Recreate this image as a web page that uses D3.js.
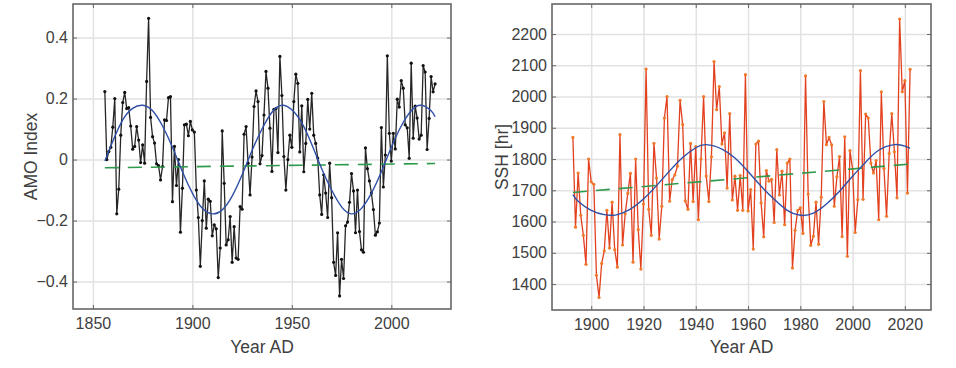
<!DOCTYPE html>
<html>
<head>
<meta charset="utf-8">
<script src="https://cdn.jsdelivr.net/npm/d3@7"></script>
<style>
  body { margin: 0; background: #fff; }
  svg text { font-family: Arial, "Liberation Sans", Helvetica, sans-serif; }
</style>
</head>
<body>
<svg id="chart" width="956" height="368"></svg>
<script>
// ---- left panel: AMO index, annual, 1856-2022
var amoStart = 1856;
var amoValues = [
  0.223, 0.0, 0.026, 0.04,
  0.106, 0.2, -0.178, -0.097, 0.08, 0.187, 0.22, 0.167, 0.17, 0.11,
  0.034, 0.043, 0.108, 0.064, -0.01, 0.048, -0.012, 0.256, 0.463, 0.138,
  0.075, 0.054, -0.014, -0.02, -0.067, -0.023, 0.13, 0.128, 0.203, 0.206,
  -0.138, 0.043, -0.085, 0.0, -0.238, -0.094, 0.114, 0.116, 0.078, 0.125,
  0.097, 0.09, -0.1, -0.19, -0.35, -0.2, -0.07, -0.225, -0.13, -0.137,
  -0.25, -0.214, -0.227, -0.387, -0.29, 0.094, -0.078, -0.28, -0.263, -0.187,
  -0.337, -0.22, -0.323, -0.327, -0.154, -0.163, 0.083, 0.108, -0.012, -0.116,
  0.008, 0.174, 0.225, 0.19, -0.014, 0.013, 0.146, 0.289, 0.234, 0.103,
  -0.039, 0.165, 0.167, 0.023, 0.338, 0.21, 0.01, -0.1, 0.0, 0.08,
  0.04, 0.19, 0.28, 0.25, 0.025, 0.176, -0.04, 0.053, 0.197, 0.1,
  0.217, 0.08, 0.053, 0.005, -0.116, -0.18, -0.05, -0.11, -0.19, -0.012,
  -0.125, -0.337, -0.38, -0.24, -0.447, -0.327, -0.39, -0.217, -0.205, -0.14,
  -0.046, -0.103, -0.24, -0.1, -0.236, -0.296, -0.304, 0.038, -0.03, -0.07,
  -0.11, -0.164, -0.248, -0.237, -0.208, 0.105, -0.09, 0.015, 0.34, 0.086,
  -0.005, 0.086, 0.035, 0.198, 0.172, 0.259, 0.234, 0.114, 0.104, 0.004,
  0.316, 0.07, 0.175, 0.136, 0.067, 0.08, 0.308, 0.287, 0.033, 0.135,
  0.272, 0.222, 0.248
];
// sinusoidal fit
var amoFitYears  = [1856, 1860, 1865, 1870, 1875, 1880, 1885, 1890, 1895, 1900, 1905, 1910, 1915, 1920, 1925, 1930, 1935, 1940, 1945, 1950, 1955, 1960, 1965, 1970, 1975, 1980, 1985, 1990, 1995, 2000, 2005, 2010, 2015, 2020, 2022];
var amoFitValues = [-0.005, 0.06, 0.13, 0.168, 0.178, 0.16, 0.11, 0.04, -0.04, -0.11, -0.16, -0.178, -0.165, -0.12, -0.05, 0.03, 0.1, 0.155, 0.178, 0.163, 0.12, 0.05, -0.03, -0.1, -0.155, -0.178, -0.16, -0.11, -0.04, 0.04, 0.11, 0.16, 0.178, 0.16, 0.14];
// linear trend endpoints
var amoTrendYears  = [1856, 2022];
var amoTrendValues = [-0.027, -0.013];
var amoXTicks = [1850, 1900, 1950, 2000];
var amoYTicks = [-0.4, -0.2, 0, 0.2, 0.4];

// ---- right panel: sunshine hours, annual, 1893-2022
var sshStart = 1893;
var sshValues = [
  1869, 1582, 1755, 1620, 1556, 1463, 1800,
  1727, 1719, 1428, 1357, 1466, 1506, 1636, 1515, 1662, 1510,
  1454, 1878, 1525, 1625, 1690, 1754, 1470, 1800, 1574, 1448,
  1656, 2088, 1639, 1556, 1850, 1739, 1544, 1649, 1931, 2000,
  1665, 1734, 1749, 1777, 1988, 1910, 1666, 1639, 1850, 1664,
  1840, 1606, 1800, 2000, 1746, 1664, 1807, 2112, 1958, 2032,
  1848, 1884, 1707, 1945, 1669, 1745, 1636, 1747, 1636, 2070,
  1634, 1702, 1512, 1848, 1857, 1660, 1551, 1763, 1729, 1735,
  1597, 1830, 1685, 1761, 1590, 1787, 1800, 1451, 1572, 1635,
  1644, 1562, 2066, 1688, 1524, 1553, 1662, 1527, 1678, 1984,
  1846, 1869, 1845, 1649, 1743, 1808, 1552, 1871, 1489, 1827,
  1768, 1565, 1670, 2083, 1671, 1944, 1931, 1787, 1755, 1795,
  1606, 2015, 1770, 1617, 1818, 1945, 1823, 1676, 2248, 2015,
  2051, 1691, 2087
];
var sshFitYears  = [1893, 1895, 1900, 1905, 1908, 1910, 1915, 1920, 1925, 1930, 1935, 1940, 1944, 1950, 1955, 1960, 1965, 1970, 1975, 1980, 1985, 1990, 1995, 2000, 2005, 2010, 2016, 2020, 2022];
var sshFitValues = [1686, 1665, 1636, 1622, 1620, 1622, 1640, 1672, 1715, 1762, 1805, 1836, 1846, 1832, 1803, 1760, 1713, 1671, 1636, 1620, 1627, 1656, 1697, 1745, 1790, 1828, 1846, 1841, 1834];
var sshTrendYears  = [1893, 2022];
var sshTrendValues = [1693, 1784];
var sshXTicks = [1900, 1920, 1940, 1960, 1980, 2000, 2020];
var sshYTicks = [1400, 1500, 1600, 1700, 1800, 1900, 2000, 2100, 2200];

var svg = d3.select('#chart');

function drawPanel(cfg) {
  var g = svg.append('g');
  var x = d3.scaleLinear().domain(cfg.xDomain).range([cfg.left, cfg.right]);
  var y = d3.scaleLinear().domain(cfg.yDomain).range([cfg.bottom, cfg.top]);
  var w = cfg.right - cfg.left;
  var h = cfg.bottom - cfg.top;

  // grid
  g.append('g')
    .attr('transform', 'translate(0,' + cfg.bottom + ')')
    .call(d3.axisBottom(x).tickValues(cfg.xTicks).tickSize(-h).tickFormat(''))
    .call(function (s) { s.select('.domain').remove(); })
    .selectAll('line').attr('stroke', '#e2e2e2').attr('stroke-width', 1.5);

  g.append('g')
    .attr('transform', 'translate(' + cfg.left + ',0)')
    .call(d3.axisLeft(y).tickValues(cfg.yTicks).tickSize(-w).tickFormat(''))
    .call(function (s) { s.select('.domain').remove(); })
    .selectAll('line').attr('stroke', '#e2e2e2').attr('stroke-width', 1.5);

  // series line + dots
  var pts = cfg.values.map(function (v, i) { return [cfg.start + i, v]; });
  var line = d3.line().x(function (d) { return x(d[0]); }).y(function (d) { return y(d[1]); });

  g.append('path')
    .datum(pts)
    .attr('d', line)
    .attr('fill', 'none')
    .attr('stroke', cfg.lineColor)
    .attr('stroke-width', 1.3)
    .attr('stroke-linejoin', 'round');

  g.selectAll('.dot')
    .data(pts)
    .enter()
    .append('circle')
    .attr('class', 'dot')
    .attr('cx', function (d) { return x(d[0]); })
    .attr('cy', function (d) { return y(d[1]); })
    .attr('r', 1.6)
    .attr('fill', cfg.dotColor);

  // trend (dashed green)
  var trend = cfg.trendYears.map(function (t, i) { return [t, cfg.trendValues[i]]; });
  g.append('path')
    .datum(trend)
    .attr('d', line)
    .attr('fill', 'none')
    .attr('stroke', '#2e9a4c')
    .attr('stroke-width', 1.6)
    .attr('stroke-dasharray', '14,9');

  // sine fit (blue)
  var fit = cfg.fitYears.map(function (t, i) { return [t, cfg.fitValues[i]]; });
  g.append('path')
    .datum(fit)
    .attr('d', line.curve(d3.curveNatural))
    .attr('fill', 'none')
    .attr('stroke', '#2f4fa6')
    .attr('stroke-width', 1.4);

  // frame
  g.append('rect')
    .attr('x', cfg.left)
    .attr('y', cfg.top)
    .attr('width', w)
    .attr('height', h)
    .attr('fill', 'none')
    .attr('stroke', '#666')
    .attr('stroke-width', 1.6);

  // axes with inward ticks on all sides
  function style(s) {
    s.select('.domain').remove();
    s.attr('font-family', 'Arial, "Liberation Sans", Helvetica, sans-serif')
      .attr('font-size', 16)
      .attr('color', '#404040');
    s.selectAll('line').attr('stroke', '#666');
  }

  g.append('g')
    .attr('transform', 'translate(0,' + cfg.bottom + ')')
    .call(d3.axisBottom(x).tickValues(cfg.xTicks).tickSizeInner(-4).tickSizeOuter(0).tickPadding(9).tickFormat(d3.format('d')))
    .call(style);

  g.append('g')
    .attr('transform', 'translate(0,' + cfg.top + ')')
    .call(d3.axisTop(x).tickValues(cfg.xTicks).tickSizeInner(-4).tickSizeOuter(0).tickFormat(''))
    .call(style);

  g.append('g')
    .attr('transform', 'translate(' + cfg.left + ',0)')
    .call(d3.axisLeft(y).tickValues(cfg.yTicks).tickSizeInner(-4).tickSizeOuter(0).tickPadding(5).tickFormat(cfg.yFormat))
    .call(style);

  g.append('g')
    .attr('transform', 'translate(' + cfg.right + ',0)')
    .call(d3.axisRight(y).tickValues(cfg.yTicks).tickSizeInner(-4).tickSizeOuter(0).tickFormat(''))
    .call(style);

  // axis titles
  g.append('text')
    .attr('x', (cfg.left + cfg.right) / 2)
    .attr('y', 353)
    .attr('text-anchor', 'middle')
    .attr('font-size', 17.5)
    .attr('fill', '#404040')
    .text('Year AD');

  g.append('text')
    .attr('transform', 'translate(' + cfg.yLabelX + ',' + ((cfg.top + cfg.bottom) / 2) + ') rotate(-90)')
    .attr('text-anchor', 'middle')
    .attr('font-size', 17.5)
    .attr('fill', '#404040')
    .text(cfg.yLabel);
}

drawPanel({
  left: 73, right: 451, top: 4, bottom: 309,
  xDomain: [1840, 2030], yDomain: [-0.49, 0.51],
  xTicks: amoXTicks, yTicks: amoYTicks,
  yFormat: function (d) { return d === 0 ? '0' : d3.format('.1f')(d); },
  start: amoStart, values: amoValues,
  fitYears: amoFitYears, fitValues: amoFitValues,
  trendYears: amoTrendYears, trendValues: amoTrendValues,
  lineColor: '#262626', dotColor: '#111',
  yLabel: 'AMO Index', yLabelX: 37
});

drawPanel({
  left: 552, right: 931, top: 4, bottom: 310,
  xDomain: [1885, 2030], yDomain: [1317, 2296],
  xTicks: sshXTicks, yTicks: sshYTicks,
  yFormat: d3.format('d'),
  start: sshStart, values: sshValues,
  fitYears: sshFitYears, fitValues: sshFitValues,
  trendYears: sshTrendYears, trendValues: sshTrendValues,
  lineColor: '#e2401e', dotColor: '#f07a2a',
  yLabel: 'SSH [hr]', yLabelX: 508
});
</script>
</body>
</html>
